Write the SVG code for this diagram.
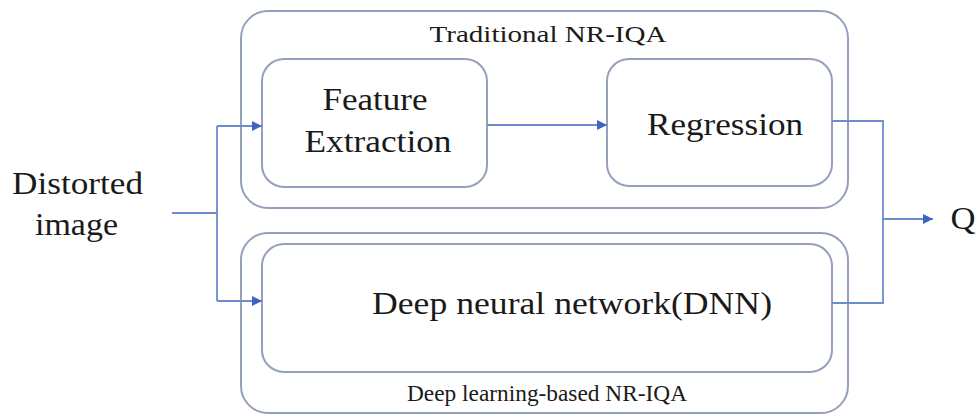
<svg xmlns="http://www.w3.org/2000/svg" width="979" height="415" viewBox="0 0 979 415">
<defs>
<style>
.box{fill:none;stroke:#95a0bc;stroke-width:2}
.conn{fill:none;stroke:#6d8ccf;stroke-width:1.8}
.t{font-family:"Liberation Serif","Times New Roman",serif;fill:#1a1a1a;text-anchor:middle}
.big{font-size:32px}
.small{font-size:24px}
</style>
<marker id="arr" viewBox="0 0 10 10" refX="10" refY="5" markerWidth="10" markerHeight="10" markerUnits="userSpaceOnUse" orient="auto">
<path d="M0,0 L10,5 L0,10 z" fill="#3f63c0"/>
</marker>
</defs>
<rect width="979" height="415" fill="#ffffff"/>
<g id="traditional">
<rect class="box" x="241" y="11" width="607" height="197" rx="27"/>
<text class="t small" x="548" y="42" textLength="237" lengthAdjust="spacingAndGlyphs">Traditional NR-IQA</text>
</g>
<g id="feature">
<rect class="box" x="262" y="59" width="225" height="128" rx="22"/>
<text class="t big" x="375" y="110" textLength="105" lengthAdjust="spacingAndGlyphs">Feature</text>
<text class="t big" x="378" y="152" textLength="147" lengthAdjust="spacingAndGlyphs">Extraction</text>
</g>
<g id="regression">
<rect class="box" x="607" y="59" width="225" height="127" rx="22"/>
<text class="t big" x="725" y="135" textLength="156" lengthAdjust="spacingAndGlyphs">Regression</text>
</g>
<g id="deeplearning">
<rect class="box" x="241" y="233" width="607" height="180" rx="27"/>
<text class="t small" x="547" y="401" textLength="280" lengthAdjust="spacingAndGlyphs">Deep learning-based NR-IQA</text>
</g>
<g id="dnn">
<rect class="box" x="262" y="244" width="570" height="128" rx="22"/>
<text class="t big" x="572" y="314" textLength="400" lengthAdjust="spacingAndGlyphs">Deep neural network(DNN)</text>
</g>
<g id="input">
<text class="t big" x="77.5" y="194" textLength="131" lengthAdjust="spacingAndGlyphs">Distorted</text>
<text class="t big" x="76.5" y="235" textLength="83" lengthAdjust="spacingAndGlyphs">image</text>
</g>
<g id="output">
<text class="t big" x="963" y="229" textLength="25" lengthAdjust="spacingAndGlyphs">Q</text>
</g>
<g id="connectors">
<path class="conn" d="M172,213 H217"/>
<path class="conn" d="M217,126 V301"/>
<path class="conn" d="M217,126 H262" marker-end="url(#arr)"/>
<path class="conn" d="M217,301 H262" marker-end="url(#arr)"/>
<path class="conn" d="M487,125 H607" marker-end="url(#arr)"/>
<path class="conn" d="M832,121 H883 V303 H832"/>
<path class="conn" d="M883,219 H933" marker-end="url(#arr)"/>
</g>
</svg>
